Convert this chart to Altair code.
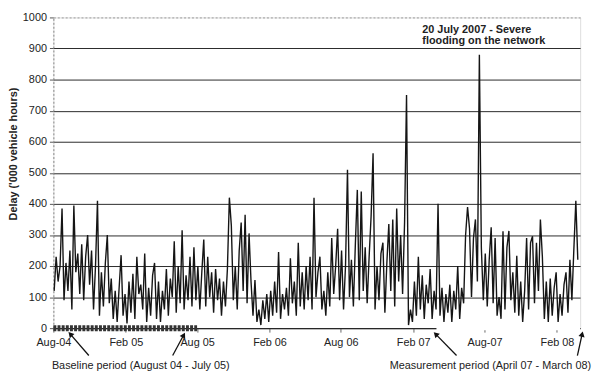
import altair as alt
import pandas as pd

# ---- data (one value roughly every 5 days) ----
series_start = "2004-08-03"
series_step_days = 5
delay = [
    # Aug 04 - Jul 05
    120, 230, 150, 200, 385, 90, 210, 120, 250, 60,
    395, 180, 240, 110, 270, 90, 230, 300, 140, 250,
    60, 200, 410, 40, 180, 70, 210, 300, 80, 160,
    30, 120, 20, 130, 235, 40, 110, 15, 150, 50,
    175, 30, 230, 110, 140,
    60, 240, 20, 130, 40, 170, 210, 30, 150, 20,
    120, 60, 190, 40, 160, 100, 280, 50, 200, 80,
    315, 60, 170, 90, 230, 70, 260, 90, 200, 60,
    180, 285, 70, 230, 100, 180, 50, 190, 90, 160,
    40, 150, 70, 190, 420,
    # Sep 05 - Aug 06
    330, 90, 200, 60, 250, 340, 120, 365, 80, 305,
    150, 40, 155, 20, 60, 10, 90, 30, 110, 20,
    120, 40, 150, 50, 245, 30, 110, 60, 130, 40,
    225, 80, 150, 40, 275, 70, 180, 60, 200, 90,
    230, 60, 420, 100, 180,
    230, 60, 120, 40, 180, 70, 290, 110, 200, 320,
    90, 250, 60, 200, 510, 100, 220, 70, 270, 445,
    90, 440, 120, 260, 80, 230, 360, 563, 60, 200,
    90, 240, 275, 50, 210, 335, 120, 350, 70, 385,
    150, 300, 110, 340, 750,
    # Feb 07 - Mar 08
    10, 60, 20, 150, 40, 230, 60, 170, 30, 140,
    80, 190, 30, 120, 60, 400, 40, 130, 20, 110,
    50, 140, 20, 120, 60, 200, 30, 130, 80, 300,
    390, 320, 100, 290, 350, 150, 880, 260, 90, 240,
    70, 220, 325, 80, 290,
    40, 100, 30, 312, 60, 260, 313, 90, 180, 50,
    233, 40, 150, 20, 120, 290, 60, 275, 296, 80,
    275, 120, 350, 230, 30, 150, 20, 160, 40, 130,
    180, 20, 110, 40, 140, 180, 50, 220, 90, 255,
    410, 220,
]

x_domain = ["2004-08-01", "2008-03-31"]
tick_dates = ["2004-08-01", "2005-02-01", "2005-08-01", "2006-02-01",
              "2006-08-01", "2007-02-01", "2007-08-01", "2008-02-01"]
tick_labels = ["Aug-04", "Feb 05", "Aug 05", "Feb 06", "Aug 06", "Feb 07", "Aug-07", "Feb 08"]
y_ticks = [0, 100, 200, 300, 400, 500, 600, 700, 800, 900, 1000]

baseline_period = ["2004-08-01", "2005-08-01"]
measurement_period = ["2007-04-01", "2008-03-31"]

arrow_tail_dates = ["2004-10-30", "2005-05-31", "2007-05-22", "2008-03-24"]
arrow_tail_vals = [-88, -88, -88, -88]
arrow_tip_dates = ["2004-09-13", "2005-06-28", "2007-03-30", "2008-04-05"]
arrow_tip_vals = [-19, -22, -19, -19]
arrow_angles = [318, 28, 315, 13]

period_labels = ["Baseline period (August 04 - July 05)",
                 "Measurement period (April 07 - March 08)"]
period_label_dates = ["2005-03-11", "2007-08-16"]
period_label_vals = [-122, -122]

flood_lines = ["20 July 2007 - Severe", "flooding on the network"]
flood_date = "2007-02-24"
flood_vals = [951, 914]

FONT = "Liberation Sans"

# ---- tables ----
dates = pd.date_range(series_start, periods=len(delay), freq=f"{series_step_days}D")
df = pd.DataFrame({"date": dates.strftime("%Y-%m-%d"), "delay": delay})


def dt(s):
    y, m, d = (int(p) for p in s.split("-"))
    return alt.DateTime(year=y, month=m, date=d)


label_expr = ""
for d, lab in zip(tick_dates, tick_labels):
    label_expr += f"timeFormat(datum.value, '%Y-%m') == '{d[:7]}' ? '{lab}' : "
label_expr += "''"

x_scale = alt.Scale(domain=[dt(x_domain[0]), dt(x_domain[1])])
y_scale = alt.Scale(domain=[0, 1000], nice=False)

x_axis = alt.Axis(
    values=[dt(d) for d in tick_dates], labelExpr=label_expr, title=None,
    grid=False, domainColor="#222", domainWidth=1, tickColor="#666", tickSize=4,
    labelFont=FONT, labelFontSize=11, labelColor="#222", labelPadding=5,
    labelFlush=False, labelOverlap=False,
)
y_axis = alt.Axis(
    values=y_ticks, title="Delay ('000 vehicle hours)", format="d",
    grid=True, labelOverlap=False, tickCount=11,
    gridColor={"condition": {"test": "datum.value == 1000", "value": "#999"}, "value": "#2a2a2a"},
    gridDash={"condition": {"test": "datum.value == 1000", "value": [2, 2]}, "value": []},
    gridWidth=1,
    domainColor="#888", domainDash=[2, 2], tickColor="#555", tickSize=4,
    labelFont=FONT, labelFontSize=11, labelColor="#222", labelPadding=3,
    titleFont=FONT, titleFontSize=11, titleFontWeight="bold", titleColor="#222",
    titleX=-40, titleY=138, titleAlign="center", titleBaseline="middle", titleAngle=270,
)


def X(field):
    return alt.X(field, scale=x_scale, axis=x_axis)


def Y(field):
    return alt.Y(field, scale=y_scale, axis=y_axis)


line = alt.Chart(df).mark_line(color="#151515", strokeWidth=1.4, interpolate="linear").encode(
    x=X("date:T"), y=Y("delay:Q"),
)

periods = pd.DataFrame({
    "start": [baseline_period[0], measurement_period[0]],
    "end": [baseline_period[1], measurement_period[1]],
    "v": [0, 0],
})
meas_bar = alt.Chart(periods.iloc[[1]]).mark_rule(color="white", strokeWidth=4).encode(
    x=X("start:T"), x2="end:T", y=Y("v:Q"))
base_bar = alt.Chart(periods.iloc[[0]]).mark_rule(
    color="#333", strokeWidth=6, strokeDash=[3, 1.2]).encode(
    x=X("start:T"), x2="end:T", y=Y("v:Q"))

arrows = pd.DataFrame({
    "t0": arrow_tail_dates, "v0": arrow_tail_vals,
    "t1": arrow_tip_dates, "v1": arrow_tip_vals, "ang": arrow_angles,
})
arrow_lines = alt.Chart(arrows).mark_rule(color="#111", strokeWidth=1.3).encode(
    x=X("t0:T"), y=Y("v0:Q"), x2="t1:T", y2="v1:Q")
arrow_heads = alt.Chart(arrows).mark_point(
    shape="triangle-up", filled=True, color="#111", size=40, opacity=1).encode(
    x=X("t1:T"), y=Y("v1:Q"), angle=alt.Angle("ang:Q", scale=None))

labels = pd.DataFrame({"t": period_label_dates, "v": period_label_vals, "txt": period_labels})
period_text = alt.Chart(labels).mark_text(
    font=FONT, fontSize=11, color="#222", align="center", baseline="middle").encode(
    x=X("t:T"), y=Y("v:Q"), text="txt:N")

flood = pd.DataFrame({"t": [flood_date] * len(flood_lines), "v": flood_vals, "txt": flood_lines})
flood_text = alt.Chart(flood).mark_text(
    font=FONT, fontSize=11, fontWeight="bold", color="#222", align="left",
    baseline="alphabetic").encode(x=X("t:T"), y=Y("v:Q"), text="txt:N")

chart = alt.layer(
    line, meas_bar, base_bar, arrow_lines, arrow_heads, period_text, flood_text
).properties(
    width=534, height=315,
    autosize=alt.AutoSizeParams(type="none"),
    padding={"left": 46, "top": 7, "right": 12, "bottom": 52},
).configure_view(stroke=None).configure(background="white")

chart.save("out.html", embed_options={"renderer": "svg", "actions": False})
